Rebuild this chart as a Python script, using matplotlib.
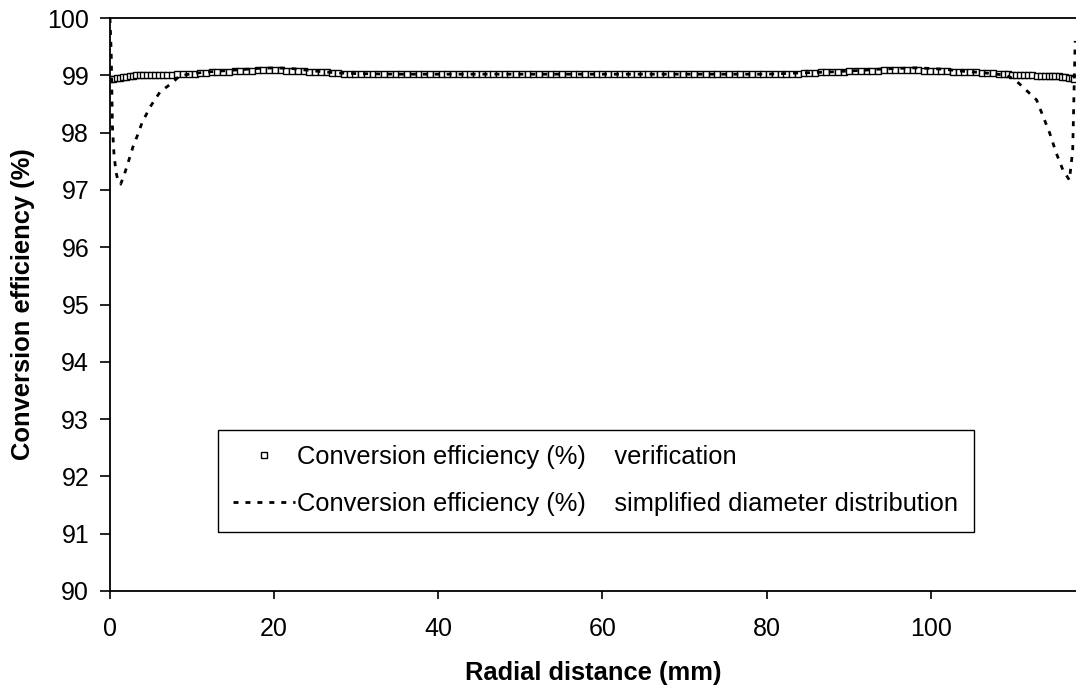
import numpy as np
import matplotlib
matplotlib.use("Agg")
import matplotlib.pyplot as plt

plt.rcParams["font.family"] = ["Liberation Sans", "DejaVu Sans"]

# Verification: conversion efficiency (%) on the radial mesh
ver_x = [0.0, 0.4, 0.8, 1.2, 1.6, 2.0, 2.4, 2.8, 3.2, 3.6,
         4.0, 4.5, 5.0, 5.5, 6.0, 6.5, 7.0, 7.6, 8.2,
         8.9, 9.6, 10.3, 11.0, 11.7, 12.4, 13.1, 13.8, 14.5, 15.2,
         15.9, 16.6, 17.3, 18.0, 18.7, 19.4, 20.1, 20.8, 21.5, 22.2,
         22.9, 23.6, 24.3, 25.0, 25.7, 26.4, 27.1, 27.8, 28.5, 29.2,
         29.9, 30.6, 31.3, 32.0, 32.7, 33.4, 34.1, 34.8, 35.5, 36.2,
         36.9, 37.6, 38.3, 39.0, 39.7, 40.4, 41.1, 41.8, 42.5, 43.2,
         43.9, 44.6, 45.3, 46.0, 46.7, 47.4, 48.1, 48.8, 49.5, 50.2,
         50.9, 51.6, 52.3, 53.0, 53.7, 54.4, 55.1, 55.8, 56.5, 57.2,
         57.9, 58.6, 59.3, 60.0, 60.7, 61.4, 62.1, 62.8, 63.5, 64.2,
         64.9, 65.6, 66.3, 67.0, 67.7, 68.4, 69.1, 69.8, 70.5, 71.2,
         71.9, 72.6, 73.3, 74.0, 74.7, 75.4, 76.1, 76.8, 77.5, 78.2,
         78.9, 79.6, 80.3, 81.0, 81.7, 82.4, 83.1, 83.8, 84.5, 85.2,
         85.9, 86.6, 87.3, 88.0, 88.7, 89.4, 90.1, 90.8, 91.5, 92.2,
         92.9, 93.6, 94.3, 95.0, 95.7, 96.4, 97.1, 97.8, 98.5, 99.2,
         99.9, 100.6, 101.3, 102.0, 102.7, 103.4, 104.1, 104.8, 105.5, 106.2,
         106.9, 107.6, 108.3,
         108.9, 109.4, 109.9, 110.4, 110.9, 111.4, 111.9, 112.4, 112.9, 113.4,
         113.9, 114.4, 114.8, 115.2, 115.6, 116.0, 116.4, 116.8, 117.2, 117.5]
ver_y = ([98.93, 98.94, 98.95, 98.96, 98.97, 98.97, 98.98, 98.99, 99.0, 99.0,
          99.0, 99.0, 99.0, 99.0, 99.0, 99.01, 99.01, 99.01, 99.02]
         + [99.02, 99.03, 99.03, 99.04, 99.04, 99.05, 99.05, 99.06, 99.06, 99.07]
         + [99.07, 99.08, 99.08, 99.09, 99.09, 99.09, 99.09, 99.09, 99.08, 99.08]
         + [99.07, 99.07, 99.06, 99.06, 99.05, 99.05, 99.04, 99.04, 99.03, 99.03]
         + [99.03] + [99.02] * 9
         + [99.02] * 60
         + [99.02, 99.02, 99.02, 99.02, 99.03, 99.03, 99.03, 99.03, 99.04, 99.04]
         + [99.04, 99.05, 99.05, 99.05, 99.06, 99.06, 99.07, 99.07, 99.07, 99.08]
         + [99.08, 99.08, 99.09, 99.09, 99.09, 99.09, 99.09, 99.09, 99.09, 99.08]
         + [99.08, 99.08, 99.07, 99.07, 99.06, 99.06, 99.05, 99.05, 99.05, 99.04]
         + [99.04, 99.04, 99.03]
         + [99.02, 99.02, 99.01, 99.01, 99.0, 99.0, 99.0, 99.0, 98.99, 98.99,
            98.99, 98.99, 98.99, 98.98, 98.98, 98.97, 98.97, 98.96, 98.95, 98.94])

# Simplified diameter distribution
sim_x = [0.0, 0.15, 0.3, 0.5, 0.75, 1.0, 1.3, 1.7, 2.0, 2.8,
         3.4, 3.9, 4.9, 6.1, 7.5, 8.5, 10.0, 12.0, 14.0, 16.0,
         18.0, 20.0, 22.0, 24.0, 26.0, 28.0, 30.0, 35.0, 40.0, 50.0,
         60.0, 70.0, 80.0, 84.0, 88.0, 92.0, 94.0, 96.0, 98.0, 100.0,
         102.0, 104.0, 106.0, 107.5, 109.2, 110.2, 111.2, 112.9, 113.7, 114.5,
         115.3, 116.1, 116.9, 117.3, 117.6]
sim_y = [100.0, 99.4, 98.1, 97.6, 97.3, 97.15, 97.1, 97.25, 97.38, 97.75,
         97.97, 98.17, 98.45, 98.71, 98.86, 98.99, 99.03, 99.06, 99.08, 99.1,
         99.12, 99.13, 99.12, 99.09, 99.06, 99.04, 99.03, 99.02, 99.02, 99.02,
         99.02, 99.02, 99.02, 99.04, 99.06, 99.09, 99.11, 99.12, 99.13, 99.12,
         99.1, 99.07, 99.05, 99.03, 99.0, 98.93, 98.8, 98.57, 98.28, 97.99,
         97.64, 97.35, 97.17, 97.7, 99.6]

fig = plt.figure(figsize=(10.76, 6.93), dpi=100)
ax = fig.add_axes([0.1022, 0.1472, 0.8978, 0.8268])

ax.plot(ver_x, ver_y, linestyle="none", marker="s", markersize=4,
        markerfacecolor="white", markeredgecolor="black", markeredgewidth=1,
        label="Conversion efficiency (%)    verification")
ax.plot(sim_x, sim_y, color="black", linewidth=2, dashes=(1.8, 2.5),
        label="Conversion efficiency (%)    simplified diameter distribution")

ax.set_xlim(0, 117.7)
ax.set_ylim(90, 100)
ax.set_xticks([0, 20, 40, 60, 80, 100])
ax.set_yticks(range(90, 101))

ax.spines["right"].set_visible(False)
for s in ["left", "bottom", "top"]:
    ax.spines[s].set_linewidth(1.3)

ax.tick_params(axis="both", direction="out", width=1.2, labelsize=18)
ax.tick_params(axis="x", length=6, pad=13)
ax.tick_params(axis="y", length=7, pad=8)

ax.set_xlabel("Radial distance (mm)", fontsize=18.4, fontweight="bold", labelpad=14)
ax.set_ylabel("Conversion efficiency (%)", fontsize=18.4, fontweight="bold", labelpad=9)

leg = ax.legend(loc="upper left", bbox_to_anchor=(0.112, 0.281),
                fontsize=18.4, frameon=True, fancybox=False, edgecolor="black",
                framealpha=1, borderpad=0.6, labelspacing=0.9, handlelength=2.4,
                handletextpad=0.1, borderaxespad=0, numpoints=1)
leg.get_frame().set_linewidth(1.0)

fig.savefig("out.png", dpi=100)
